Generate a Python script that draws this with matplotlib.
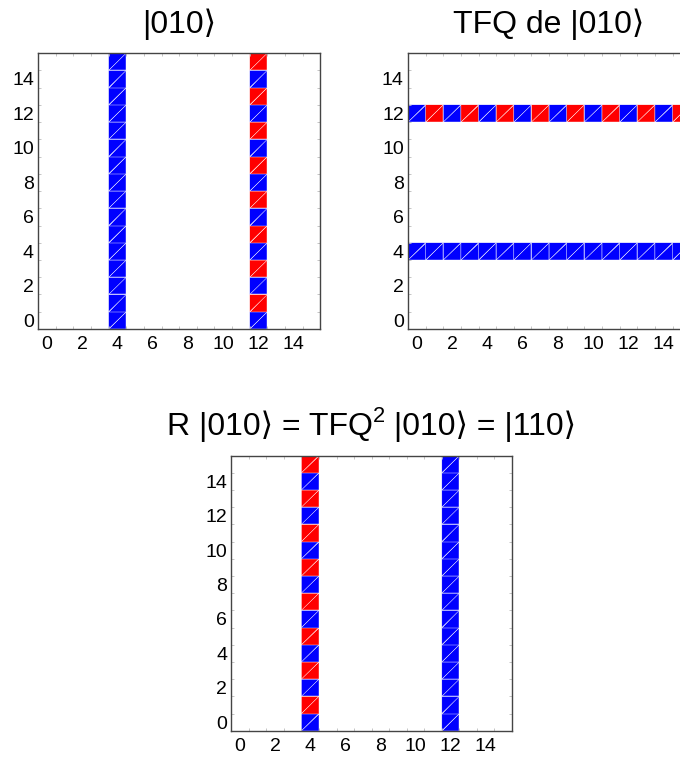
"""
Registro cuántico de 4 qubits (16x16): estado |010>, su TFQ y R = TFQ^2
"""

import matplotlib
matplotlib.use('Agg')

import numpy as np
import matplotlib.pyplot as plt
import matplotlib.tri as mtri
from matplotlib.colors import ListedColormap
from matplotlib.ticker import MultipleLocator

plt.rcParams['font.family'] = ['Liberation Sans', 'DejaVu Sans']

N = 16
cells = list(range(N))

# amplitudes (signo) a lo largo de cada franja: 1 = azul, -1 = rojo
flat = [1, 1, 1, 1, 1, 1, 1, 1, 1, 1, 1, 1, 1, 1, 1, 1]
alternating = [1, -1, 1, -1, 1, -1, 1, -1, 1, -1, 1, -1, 1, -1, 1, -1]

# títulos: trozos (texto, es_superíndice)
titles = [
    [('|010⟩', False)],
    [('TFQ de |010⟩', False)],
    [('R |010⟩ = TFQ', False), ('2', True), (' |010⟩ = |110⟩', False)],
]

# (orientación, índice de la franja, valores)
panel_stripes = [
    [('col', 4, flat), ('col', 12, alternating)],
    [('row', 4, flat), ('row', 12, alternating)],
    [('col', 4, alternating), ('col', 12, flat)],
]

# posiciones de los ejes en fracciones de figura
positions = [
    [0.056, 0.566, 0.415, 0.364],
    [0.600, 0.566, 0.415, 0.364],
    [0.340, 0.036, 0.413, 0.363],
]
title_baseline_px = [33, 33, 435]  # desde arriba


def build_grid(stripes):
    grid = np.zeros((N, N))  # grid[fila, columna]
    for kind, idx, vals in stripes:
        if kind == 'col':
            grid[:, idx] = vals
        else:
            grid[idx, :] = vals
    return grid


def draw_register(ax, grid):
    # nodos en las esquinas de las celdas
    xs, ys = np.meshgrid(np.arange(N + 1) - 0.5, np.arange(N + 1) - 0.5)
    xs, ys = xs.ravel(), ys.ravel()

    def node(r, c):
        return r * (N + 1) + c

    tris, vals = [], []
    for r in cells:
        for c in cells:
            v = grid[r, c]
            if v == 0:
                continue
            bl, br = node(r, c), node(r, c + 1)
            tl, tr = node(r + 1, c), node(r + 1, c + 1)
            tris.append([bl, br, tr])
            tris.append([bl, tr, tl])
            vals += [v, v]

    triang = mtri.Triangulation(xs, ys, tris)
    cmap = ListedColormap(['#ff0000', '#0000ff'])
    ax.tripcolor(triang, facecolors=np.array(vals), cmap=cmap,
                 vmin=-1, vmax=1, edgecolors='#ffffff1c', linewidth=0.3)


def draw_title(fig, ax, pieces, baseline_px, fontsize=23):
    """Título centrado sobre el eje, con superíndice real (sin mathtext)."""
    renderer = fig.canvas.get_renderer()
    W, H = fig.bbox.width, fig.bbox.height
    px = fig.dpi / 72.0
    placed, width = [], 0.0
    for s, sup in pieces:
        fs = fontsize * 0.68 if sup else fontsize
        dy = fontsize * 0.40 * px if sup else 0.0
        t = fig.text(0, 0, s, fontsize=fs, ha='left', va='baseline')
        placed.append((t, width, dy))
        width += t.get_window_extent(renderer).width
    pos = ax.get_position()
    start = (pos.x0 + pos.width / 2) * W - width / 2
    for t, off, dy in placed:
        t.set_position(((start + off) / W, (H - baseline_px + dy) / H))


fig = plt.figure(figsize=(6.8, 7.58), dpi=100)

for title, stripes, pos, base in zip(titles, panel_stripes, positions,
                                     title_baseline_px):
    ax = fig.add_axes(pos)
    draw_register(ax, build_grid(stripes))

    ax.set_xlim(-0.5, N - 0.5)
    ax.set_ylim(-0.5, N - 0.5)
    ax.set_xticks(cells[::2])
    ax.set_yticks(cells[::2])
    ax.xaxis.set_minor_locator(MultipleLocator(1, offset=0.5))
    ax.yaxis.set_minor_locator(MultipleLocator(1, offset=0.5))
    ax.tick_params(which='major', length=0, labelsize=14)
    ax.tick_params(axis='x', which='major', pad=5)
    ax.tick_params(axis='y', which='major', pad=3)
    ax.tick_params(which='minor', direction='in', length=2, width=0.6,
                   color='#bbbbbb', top=True, right=True)
    for sp in ax.spines.values():
        sp.set_color('#444444')
        sp.set_linewidth(1.0)

    draw_title(fig, ax, title, base)

fig.savefig('out.png', dpi=100)
plt.close(fig)
